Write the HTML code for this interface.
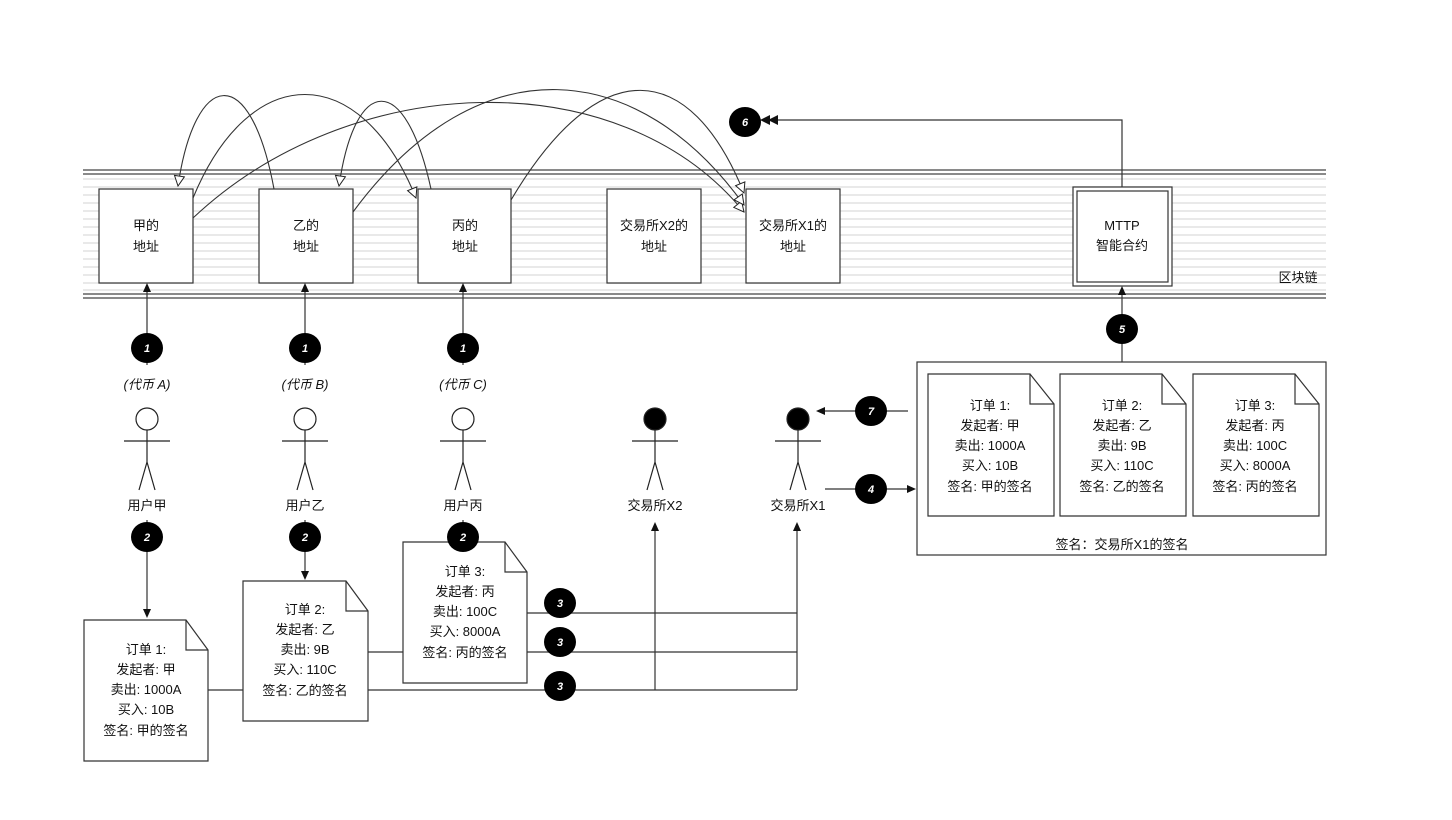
<!DOCTYPE html>
<html><head><meta charset="utf-8"><style>
html,body{margin:0;padding:0;background:#fff;}
svg{display:block;}
text{font-family:"Liberation Sans","Noto Sans CJK SC",sans-serif;font-size:13px;fill:#111;text-anchor:middle;}
.b text, text.w{fill:#fff;font-style:italic;font-weight:bold;font-size:11px;}
</style></head><body>
<svg width="1452" height="820" viewBox="0 0 1452 820" xmlns="http://www.w3.org/2000/svg">
<defs>
<marker id="ho" viewBox="0 0 12 12" refX="11" refY="6" markerWidth="12" markerHeight="12" orient="auto" markerUnits="userSpaceOnUse"><path d="M1,1 L11,6 L1,11 Z" fill="#fff" stroke="#222" stroke-width="1"/></marker>
<marker id="fa" viewBox="0 0 10 10" refX="9" refY="5" markerWidth="10" markerHeight="10" orient="auto" markerUnits="userSpaceOnUse"><path d="M0,1 L10,5 L0,9 Z" fill="#111"/></marker>
</defs>
<!-- blockchain band -->
<g stroke="#e2e2e2" stroke-width="1.5">
<line x1="83" y1="179" x2="1326" y2="179"/><line x1="83" y1="187" x2="1326" y2="187"/><line x1="83" y1="195" x2="1326" y2="195"/><line x1="83" y1="203" x2="1326" y2="203"/><line x1="83" y1="211" x2="1326" y2="211"/><line x1="83" y1="219" x2="1326" y2="219"/><line x1="83" y1="227" x2="1326" y2="227"/><line x1="83" y1="235" x2="1326" y2="235"/><line x1="83" y1="243" x2="1326" y2="243"/><line x1="83" y1="251" x2="1326" y2="251"/><line x1="83" y1="259" x2="1326" y2="259"/><line x1="83" y1="267" x2="1326" y2="267"/><line x1="83" y1="275" x2="1326" y2="275"/><line x1="83" y1="283" x2="1326" y2="283"/><line x1="83" y1="290" x2="1326" y2="290"/>
</g>
<g stroke="#444" stroke-width="1.2">
<line x1="83" y1="170" x2="1326" y2="170"/><line x1="83" y1="174" x2="1326" y2="174"/>
<line x1="83" y1="294" x2="1326" y2="294"/><line x1="83" y1="298" x2="1326" y2="298"/>
</g>
<text x="1298" y="282">区块链</text>
<!-- address boxes -->
<g fill="#fff" stroke="#333" stroke-width="1.2">
<rect x="99" y="189" width="94" height="94"/>
<rect x="259" y="189" width="94" height="94"/>
<rect x="418" y="189" width="93" height="94"/>
<rect x="607" y="189" width="94" height="94"/>
<rect x="746" y="189" width="94" height="94"/>
<rect x="1073" y="187" width="99" height="99"/>
<rect x="1077" y="191" width="91" height="91"/>
</g>
<text x="146" y="230">甲的</text><text x="146" y="251">地址</text>
<text x="306" y="230">乙的</text><text x="306" y="251">地址</text>
<text x="465" y="230">丙的</text><text x="465" y="251">地址</text>
<text x="654" y="230">交易所X2的</text><text x="654" y="251">地址</text>
<text x="793" y="230">交易所X1的</text><text x="793" y="251">地址</text>
<text x="1122" y="230">MTTP</text><text x="1122" y="250">智能合约</text>
<!-- curves -->
<g fill="none" stroke="#333" stroke-width="1.1" marker-end="url(#ho)">
<path d="M274,189 C250,60 195,70 178,186"/>
<path d="M431,189 C405,70 355,75 339,186"/>
<path d="M193,198 C250,60 360,60 416,198"/>
<path d="M193,218 C350,70 620,60 744,212"/>
<path d="M353,212 C480,40 640,60 744,205"/>
<path d="M511,200 C600,50 690,60 744,193"/>
</g>
<!-- 6 line -->
<path d="M1122,187 V120 H768" fill="none" stroke="#333" stroke-width="1.2"/>
<path d="M760,120 l10,-5 v10 z M768,120 l10,-5 v10 z" fill="#111"/>
<!-- user vertical lines -->
<g stroke="#333" stroke-width="1.2" fill="none">
<line x1="147" y1="365" x2="147" y2="287"/><line x1="305" y1="365" x2="305" y2="287"/><line x1="463" y1="365" x2="463" y2="287"/>
<line x1="147" y1="520" x2="147" y2="612"/><line x1="305" y1="520" x2="305" y2="574"/><line x1="463" y1="520" x2="463" y2="537"/>
<line x1="1122" y1="362" x2="1122" y2="290"/>
<line x1="908" y1="411" x2="822" y2="411"/><line x1="825" y1="489" x2="910" y2="489"/>
<!-- order connectors -->
<line x1="208" y1="690" x2="243" y2="690"/>
<line x1="368" y1="690" x2="797" y2="690"/>
<line x1="368" y1="652" x2="403" y2="652"/>
<line x1="527" y1="652" x2="797" y2="652"/>
<line x1="527" y1="613" x2="797" y2="613"/>
<line x1="655" y1="690" x2="655" y2="528"/>
<line x1="797" y1="690" x2="797" y2="528"/>
</g>
<g fill="#111">
<path d="M147,283 l-4,9 h8 z"/><path d="M305,283 l-4,9 h8 z"/><path d="M463,283 l-4,9 h8 z"/>
<path d="M1122,286 l-4,9 h8 z"/>
<path d="M147,618 l-4,-9 h8 z"/><path d="M305,580 l-4,-9 h8 z"/>
<path d="M655,522 l-4,9 h8 z"/><path d="M797,522 l-4,9 h8 z"/>
<path d="M816,411 l9,-4 v8 z"/><path d="M916,489 l-9,-4 v8 z"/>
</g>
<!-- actors -->
<g stroke="#222" stroke-width="1.2">
<g fill="#fff"><circle cx="147" cy="419" r="11"/><circle cx="305" cy="419" r="11"/><circle cx="463" cy="419" r="11"/></g>
<g fill="#000"><circle cx="655" cy="419" r="11"/><circle cx="798" cy="419" r="11"/></g>
<path fill="none" d="M147,430 V462 M124,441 H170 M147,462 L139,490 M147,462 L155,490
M305,430 V462 M282,441 H328 M305,462 L297,490 M305,462 L313,490
M463,430 V462 M440,441 H486 M463,462 L455,490 M463,462 L471,490
M655,430 V462 M632,441 H678 M655,462 L647,490 M655,462 L663,490
M798,430 V462 M775,441 H821 M798,462 L790,490 M798,462 L806,490"/>
</g>
<text x="147" y="510">用户甲</text><text x="305" y="510">用户乙</text><text x="463" y="510">用户丙</text>
<text x="655" y="510">交易所X2</text><text x="798" y="510">交易所X1</text>
<g style="font-style:italic"><text x="147" y="389" style="font-style:italic">(代币 A)</text><text x="305" y="389" style="font-style:italic">(代币 B)</text><text x="463" y="389" style="font-style:italic">(代币 C)</text></g>
<!-- documents -->
<g fill="#fff" stroke="#333" stroke-width="1.2">
<path d="M84,620 H186 L208,650 V761 H84 Z M186,620 V650 H208"/>
<path d="M243,581 H346 L368,611 V721 H243 Z M346,581 V611 H368"/>
<path d="M403,542 H505 L527,572 V683 H403 Z M505,542 V572 H527"/>
<rect x="917" y="362" width="409" height="193"/>
<path d="M928,374 H1030 L1054,404 V516 H928 Z M1030,374 V404 H1054"/>
<path d="M1060,374 H1162 L1186,404 V516 H1060 Z M1162,374 V404 H1186"/>
<path d="M1193,374 H1295 L1319,404 V516 H1193 Z M1295,374 V404 H1319"/>
</g>
<g>
<text x="146" y="654">订单 1:</text><text x="146" y="674">发起者: 甲</text><text x="146" y="694">卖出: 1000A</text><text x="146" y="714">买入: 10B</text><text x="146" y="735">签名: 甲的签名</text>
<text x="305" y="614">订单 2:</text><text x="305" y="634">发起者: 乙</text><text x="305" y="654">卖出: 9B</text><text x="305" y="674">买入: 110C</text><text x="305" y="695">签名: 乙的签名</text>
<text x="465" y="576">订单 3:</text><text x="465" y="596">发起者: 丙</text><text x="465" y="616">卖出: 100C</text><text x="465" y="636">买入: 8000A</text><text x="465" y="657">签名: 丙的签名</text>
<text x="990" y="410">订单 1:</text><text x="990" y="430">发起者: 甲</text><text x="990" y="450">卖出: 1000A</text><text x="990" y="470">买入: 10B</text><text x="990" y="491">签名: 甲的签名</text>
<text x="1122" y="410">订单 2:</text><text x="1122" y="430">发起者: 乙</text><text x="1122" y="450">卖出: 9B</text><text x="1122" y="470">买入: 110C</text><text x="1122" y="491">签名: 乙的签名</text>
<text x="1255" y="410">订单 3:</text><text x="1255" y="430">发起者: 丙</text><text x="1255" y="450">卖出: 100C</text><text x="1255" y="470">买入: 8000A</text><text x="1255" y="491">签名: 丙的签名</text>
<text x="1122" y="549">签名：交易所X1的签名</text>
</g>
<!-- badges -->
<g fill="#000">
<ellipse cx="147" cy="348" rx="16" ry="15"/><ellipse cx="305" cy="348" rx="16" ry="15"/><ellipse cx="463" cy="348" rx="16" ry="15"/>
<ellipse cx="147" cy="537" rx="16" ry="15"/><ellipse cx="305" cy="537" rx="16" ry="15"/><ellipse cx="463" cy="537" rx="16" ry="15"/>
<ellipse cx="560" cy="603" rx="16" ry="15"/><ellipse cx="560" cy="642" rx="16" ry="15"/><ellipse cx="560" cy="686" rx="16" ry="15"/>
<ellipse cx="871" cy="489" rx="16" ry="15"/><ellipse cx="871" cy="411" rx="16" ry="15"/>
<ellipse cx="1122" cy="329" rx="16" ry="15"/><ellipse cx="745" cy="122" rx="16" ry="15"/>
</g>
<g>
<text class="w" x="147" y="352">1</text><text class="w" x="305" y="352">1</text><text class="w" x="463" y="352">1</text>
<text class="w" x="147" y="541">2</text><text class="w" x="305" y="541">2</text><text class="w" x="463" y="541">2</text>
<text class="w" x="560" y="607">3</text><text class="w" x="560" y="646">3</text><text class="w" x="560" y="690">3</text>
<text class="w" x="871" y="493">4</text><text class="w" x="871" y="415">7</text>
<text class="w" x="1122" y="333">5</text><text class="w" x="745" y="126">6</text>
</g>
</svg>
</body></html>
